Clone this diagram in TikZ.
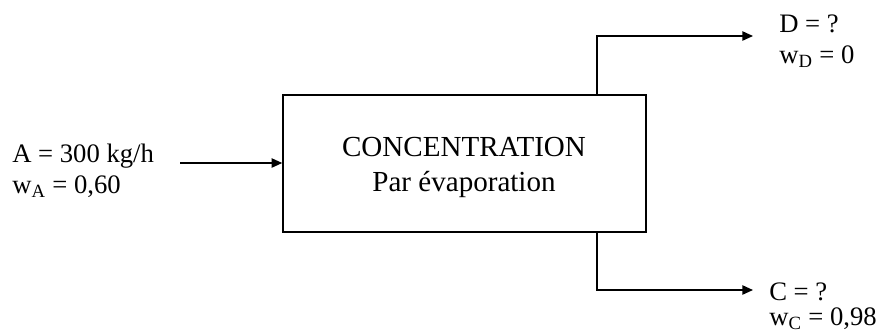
\documentclass[tikz,border=0pt]{standalone}
\usepackage{fontspec}
\setmainfont{Liberation Serif}
\usetikzlibrary{arrows.meta}
\begin{document}
\begin{tikzpicture}[x=0.75pt,y=-0.75pt,
  lbl/.style={inner sep=0pt,font=\fontsize{20}{24}\selectfont},
  title/.style={inner sep=0pt,font=\fontsize{21.8}{26}\selectfont},
  flow/.style={line width=1.1pt,-{Triangle[length=8pt,width=7pt]}},
  unitbox/.style={draw,line width=1.1pt,minimum width=363*0.75pt,minimum height=137*0.75pt,inner sep=0pt}]
\useasboundingbox (0,0) rectangle (887,333);
% process block
\node[unitbox] (box) at (464.5,163.5) {};
\node[title,anchor=base] (t1) at (464,156) {CONCENTRATION};
\node[title,anchor=base] (t2) at (464,191) {Par évaporation};
% feed
\node[lbl,anchor=base west] (a1) at (12,162) {A = 300 kg/h};
\node[lbl,anchor=base west] (a2) at (12,193) {w\textsubscript{A} = 0,60};
\coordinate (fin) at (180,163);
\draw[flow] (fin) -- (box.west |- fin);
% distillate
\coordinate (dtop) at (597,95);
\coordinate (dend) at (753,36);
\draw[flow] (dtop) |- (dend);
\node[lbl,anchor=base west] (d1) at (779,32) {D = ?};
\node[lbl,anchor=base west] (d2) at (779,63) {w\textsubscript{D} = 0};
% concentrate
\coordinate (cbot) at (597,232);
\coordinate (cend) at (753,290);
\draw[flow] (cbot) |- (cend);
\node[lbl,anchor=base west] (c1) at (769,300) {C = ?};
\node[lbl,anchor=base west] (c2) at (769,325) {w\textsubscript{C} = 0,98};
\end{tikzpicture}
\end{document}
